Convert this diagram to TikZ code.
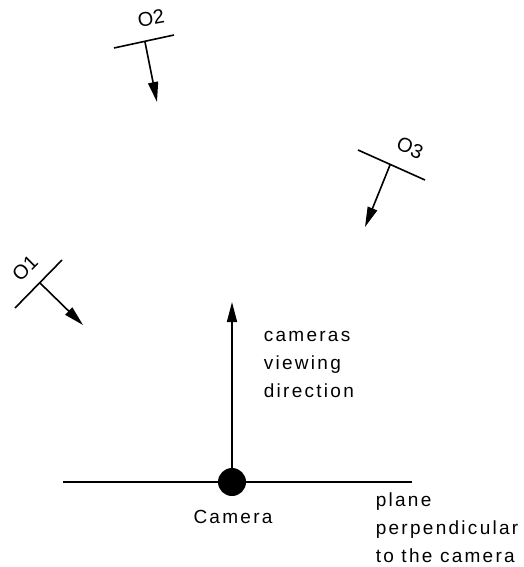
\documentclass[tikz,border=0pt]{standalone}
\usepackage{fontspec}
\setmainfont{Liberation Sans}[LetterSpace=12]
\newfontfamily\tagfont{Liberation Sans}
\usetikzlibrary{arrows.meta}
\begin{document}
\begin{tikzpicture}[x=1pt,y=-1pt,line width=1.6pt,
  lbl/.style={font=\fontsize{19}{28}\selectfont,inner sep=0pt},
  tag/.style={font=\tagfont\fontsize{20}{22}\selectfont,inner sep=0pt},
  dir/.style={-{Triangle[length=20pt,width=10pt]}}]
\useasboundingbox (0,0) rectangle (523,567);

\coordinate (o1a) at (15,308);
\coordinate (o1b) at (62,260);
\coordinate (o1c) at (40,283);
\coordinate (o1t) at (83,325);
\draw (o1a) -- (o1b);
\draw[dir] (o1c) -- (o1t);
\node[tag,rotate=45] (o1) at (25,268) {O1};

\coordinate (o2a) at (114,48);
\coordinate (o2b) at (174,35);
\coordinate (o2c) at (145,42);
\coordinate (o2t) at (157,102);
\draw (o2a) -- (o2b);
\draw[dir] (o2c) -- (o2t);
\node[tag,rotate=10] (o2) at (151,18) {O2};

\coordinate (o3a) at (358,150);
\coordinate (o3b) at (425,180);
\coordinate (o3c) at (390,165);
\coordinate (o3t) at (365,227);
\draw (o3a) -- (o3b);
\draw[dir] (o3c) -- (o3t);
\node[tag,rotate=-24] (o3) at (410,148) {O3};

\coordinate (pl) at (63,482);
\coordinate (pr) at (412,482);
\coordinate (view) at (232,302);
\draw (pl) -- (pr);
\node[circle,fill,minimum size=28pt,inner sep=0pt] (cam) at (232,482) {};
\draw[dir] (cam.center) -- (view);

\node[lbl,anchor=base] (camlbl) at (233,523) {Camera};
\node[lbl,anchor=base west,align=left] (viewlbl) at (263,397) {cameras\\viewing\\direction};
\node[lbl,anchor=base west,align=left] (planelbl) at (375,562) {plane\\perpendicular\\to the camera};
\end{tikzpicture}
\end{document}
